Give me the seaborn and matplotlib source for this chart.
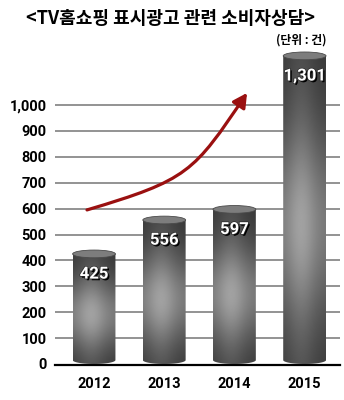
import numpy as np
import pandas as pd
import matplotlib
matplotlib.use("Agg")
import matplotlib.pyplot as plt
import matplotlib.patheffects as pe
from matplotlib.path import Path
from matplotlib.patches import PathPatch, Ellipse, FancyArrowPatch
import seaborn as sns

# ---- data ----
years = ["2012", "2013", "2014", "2015"]
counts = [425, 556, 597, 1301]
value_labels = ["425", "556", "597", "1,301"]
yticks = [0, 100, 200, 300, 400, 500, 600, 700, 800, 900, 1000]
ytick_labels = ["0", "100", "200", "300", "400", "500", "600", "700", "800", "900", "1,000"]
title = "<TV홈쇼핑 표시광고 관련 소비자상담>"
unit_text = "(단위 : 건)"
# trend arrow (decorative cubic curve, data coords)
arrow_x = [-0.10, 1.34, 1.42, 2.18]
arrow_y = [595, 711, 740, 1047]

sns.set_theme(style="white")
NARROW = ["Roboto", "DejaVu Sans"]
KR = ["Noto Sans CJK KR", "DejaVu Sans"]
plt.rcParams["font.family"] = NARROW

fig = plt.figure(figsize=(3.44, 4.0), dpi=100)
ax = fig.add_axes([55 / 344, 35 / 400, (340 - 55) / 344, 0.789])

df = pd.DataFrame({"year": years, "count": counts})
sns.barplot(data=df, x="year", y="count", ax=ax, width=0.61,
            facecolor="none", edgecolor="none", errorbar=None)

VISIBLE_MAX = 1190  # broken tall bar is cut here
E = 30  # ellipse height in data units

# gradient template
N, M = 200, 60
t = np.linspace(0, 1, N)[:, None]
u = np.linspace(0, 1, M)[None, :]
vert = 0.28 + 0.34 * np.exp(-((t - 0.45) / 0.32) ** 2)
horiz = 0.75 + 0.27 * np.exp(-((u - 0.42) / 0.35) ** 2)
grad = np.clip(vert * horiz, 0, 1)

for patch, val, lab in zip(ax.patches, counts, value_labels):
    x0 = patch.get_x()
    w = patch.get_width()
    x1 = x0 + w
    xc = x0 + w / 2
    top = min(val, VISIBLE_MAX)
    ang = np.linspace(0, np.pi, 40)
    bx = xc + (w / 2) * np.cos(ang)
    by = E / 2 - (E / 2) * np.sin(ang)
    verts = [(x0, top), (x1, top)] + list(zip(bx, by)) + [(x0, top)]
    clip = PathPatch(Path(verts), transform=ax.transData, facecolor="none", edgecolor="none")
    ax.add_patch(clip)
    im = ax.imshow(grad, cmap="gray", vmin=0, vmax=1, origin="lower",
                   extent=[x0, x1, 0, top], aspect="auto", zorder=2,
                   interpolation="bilinear")
    im.set_clip_path(clip)
    cap = Ellipse((xc, top), w, E, facecolor="#7d7d7d", edgecolor="#4a4a4a",
                  lw=0.6, zorder=3)
    ax.add_patch(cap)
    ax.annotate(lab, (xc, top), xytext=(0, -14.5), textcoords="offset points",
                ha="center", va="center", color="white", fontsize=12,
                fontweight="bold", zorder=5, family=NARROW,
                path_effects=[pe.SimplePatchShadow(offset=(1.2, -1.2), shadow_rgbFace="black", alpha=1.0),
                              pe.withStroke(linewidth=1.0, foreground="#2a2a2a")])

# trend arrow
apath = Path(list(zip(arrow_x, arrow_y)), [Path.MOVETO, Path.CURVE4, Path.CURVE4, Path.CURVE4])
arrow = FancyArrowPatch(path=apath, arrowstyle="-|>,head_length=0.6,head_width=0.32",
                        mutation_scale=14, color="#9a1010", lw=2.3, zorder=4,
                        transform=ax.transData)
ax.add_patch(arrow)

ax.set_xlim(-0.556, 3.504)
ax.set_ylim(-4, 1215)
ax.set_yticks(yticks)
ax.set_yticklabels(ytick_labels)
for yv in yticks[1:]:
    ax.axhline(yv, color="#8a8a8a", lw=1.3, zorder=1)
ax.tick_params(axis="y", length=0, pad=6, labelsize=10.5)
ax.tick_params(axis="x", length=0, pad=9, labelsize=10.5)
for lbl in ax.get_yticklabels() + ax.get_xticklabels():
    lbl.set_fontweight("bold")
    lbl.set_color("black")
ax.set_xlabel("")
ax.set_ylabel("")
for s in ["top", "right", "left"]:
    ax.spines[s].set_visible(False)
ax.spines["bottom"].set_color("black")
ax.spines["bottom"].set_linewidth(1.6)
ax.spines["bottom"].set_zorder(6)

fig.text(171 / 344, 1 - 18 / 400, title, ha="center", va="center",
         fontsize=13, fontweight="heavy", family=KR, color="black")
fig.text(326 / 344, 1 - 40 / 400, unit_text, ha="right", va="center",
         fontsize=8.5, fontweight="bold", family=KR, color="black")

fig.savefig("out.png", dpi=100, facecolor="white")
